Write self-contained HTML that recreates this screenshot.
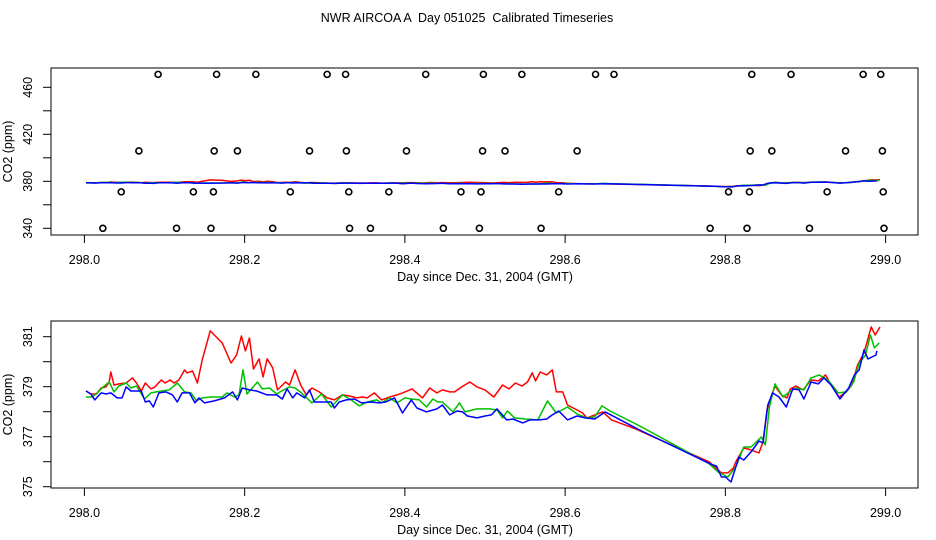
<!DOCTYPE html>
<html><head><meta charset="utf-8"><style>
html,body{margin:0;padding:0;background:#fff;}
svg{display:block;font-family:"Liberation Sans",sans-serif;}
</style></head><body>
<svg id="chart" width="936" height="540" viewBox="0 0 936 540" xmlns="http://www.w3.org/2000/svg">
<text x="467" y="22" font-size="12.5" text-anchor="middle" style="white-space:pre">NWR AIRCOA A  Day 051025  Calibrated Timeseries</text>
<g id="top"></g>
<g id="bot"></g>
</svg>
<script>
const xTicks = [298.0, 298.2, 298.4, 298.6, 298.8, 299.0];
const xTickLabels = ["298.0","298.2","298.4","298.6","298.8","299.0"];
const topYTicks = [340, 360, 380, 400, 420, 440, 460];
const topYLabels = ["340","","380","","420","","460"];
const botYTicks = [375, 376, 377, 378, 379, 380, 381];
const botYLabels = ["375","","377","","379","","381"];

const flaggedHigh = [298.092,298.165,298.214,298.303,298.326,298.426,298.498,298.546,298.638,298.661,298.833,298.882,298.972,298.994];
const flaggedUpper = [298.068,298.162,298.191,298.281,298.327,298.402,298.497,298.525,298.615,298.831,298.858,298.950,298.996];
const flaggedLower = [298.046,298.136,298.161,298.257,298.330,298.380,298.470,298.495,298.592,298.804,298.830,298.927,298.997];
const flaggedLow = [298.023,298.115,298.158,298.235,298.331,298.357,298.448,298.493,298.570,298.781,298.827,298.905,298.998];
const flaggedValues = [471, 405.8, 371, 340];

const redSeries = [[.002,378.83],[.008,378.71],[.015,378.71],[.021,378.95],[.027,378.99],[.031,379.19],[.033,379.59],[.037,379.07],[.043,379.11],[.052,379.15],[.060,379.35],[.065,379.15],[.071,378.83],[.076,379.15],[.083,378.91],[.088,378.99],[.096,379.27],[.101,379.15],[.107,379.27],[.112,379.15],[.118,379.27],[.125,379.67],[.128,379.55],[.135,379.63],[.141,379.15],[.147,380.07],[.157,381.23],[.172,380.75],[.183,379.95],[.190,380.27],[.196,381.03],[.201,380.43],[.206,380.95],[.211,379.71],[.218,380.11],[.223,379.39],[.228,380.11],[.235,379.75],[.241,378.87],[.251,379.19],[.256,379.07],[.263,379.67],[.270,379.07],[.277,378.67],[.284,378.95],[.293,378.79],[.303,378.55],[.312,378.47],[.322,378.67],[.331,378.63],[.340,378.55],[.347,378.59],[.353,378.55],[.362,378.75],[.371,378.47],[.381,378.59],[.390,378.67],[.397,378.75],[.409,378.91],[.422,378.55],[.431,378.95],[.440,378.75],[.447,378.87],[.456,378.79],[.462,378.79],[.471,378.99],[.481,379.19],[.490,378.99],[.500,378.87],[.511,378.59],[.522,379.07],[.530,378.91],[.538,379.15],[.546,379.03],[.553,379.19],[.559,379.55],[.563,379.23],[.569,379.59],[.577,379.47],[.584,379.67],[.589,378.79],[.597,378.79],[.603,378.27],[.615,378.07],[.622,377.95],[.627,377.75],[.637,377.87],[.647,377.99],[.658,377.67],[.688,377.31],[.780,375.99],[.795,375.55],[.803,375.55],[.810,375.75],[.813,375.99],[.823,376.55],[.832,376.47],[.842,376.35],[.847,376.79],[.852,378.07],[.857,378.59],[.862,379.03],[.870,378.67],[.877,378.55],[.881,378.91],[.888,379.03],[.897,378.87],[.907,379.27],[.916,379.23],[.925,379.47],[.932,379.07],[.942,378.59],[.951,378.79],[.958,379.07],[.965,379.87],[.973,380.35],[.982,381.39],[.987,381.07],[.993,381.39]];

const greenSeries = [[.002,378.59],[.010,378.59],[.016,378.75],[.022,378.95],[.031,379.19],[.037,378.79],[.043,379.03],[.052,379.15],[.058,378.95],[.065,379.03],[.075,378.51],[.083,378.75],[.096,378.83],[.106,378.87],[.116,379.15],[.125,378.79],[.133,378.75],[.140,378.43],[.147,378.55],[.158,378.59],[.172,378.59],[.178,378.75],[.187,378.59],[.193,378.67],[.198,379.67],[.203,378.71],[.216,379.19],[.222,378.91],[.231,378.95],[.240,378.71],[.246,378.83],[.256,378.99],[.263,378.95],[.271,378.75],[.284,378.35],[.296,378.71],[.308,378.19],[.322,378.67],[.333,378.47],[.343,378.23],[.353,378.39],[.365,378.47],[.371,378.35],[.381,378.55],[.390,378.35],[.400,378.55],[.408,378.51],[.418,378.47],[.427,378.19],[.435,378.51],[.441,378.39],[.447,378.39],[.460,377.99],[.468,378.35],[.475,377.99],[.490,378.11],[.506,378.11],[.515,378.07],[.522,377.75],[.528,378.03],[.537,377.75],[.550,377.71],[.566,377.67],[.578,378.43],[.589,377.95],[.603,378.19],[.615,377.91],[.627,377.75],[.637,377.79],[.646,378.23],[.656,378.03],[.693,377.43],[.780,375.91],[.791,375.59],[.803,375.39],[.813,375.79],[.823,376.59],[.832,376.59],[.845,376.99],[.850,376.67],[.855,378.19],[.862,379.11],[.872,378.59],[.880,378.79],[.888,378.95],[.898,378.87],[.907,379.35],[.917,379.47],[.928,379.27],[.941,378.75],[.951,378.79],[.960,379.19],[.967,379.95],[.975,380.27],[.981,381.07],[.986,380.55],[.992,380.75]];

const blueSeries = [[.002,378.83],[.008,378.71],[.013,378.47],[.021,378.75],[.027,378.71],[.033,378.75],[.041,378.55],[.047,378.55],[.052,378.99],[.058,378.83],[.071,378.83],[.076,378.39],[.081,378.43],[.086,378.19],[.093,378.75],[.102,378.79],[.110,378.67],[.116,378.39],[.122,378.75],[.131,378.75],[.138,378.35],[.143,378.55],[.150,378.35],[.162,378.43],[.175,378.55],[.185,378.79],[.191,378.47],[.197,378.95],[.206,378.87],[.215,378.83],[.228,378.67],[.240,378.67],[.247,378.51],[.253,378.91],[.260,378.55],[.265,378.75],[.275,378.55],[.281,378.87],[.287,378.39],[.308,378.39],[.312,378.15],[.318,378.39],[.327,378.47],[.337,378.51],[.346,378.35],[.358,378.39],[.368,378.35],[.376,378.39],[.387,378.55],[.397,377.95],[.408,378.47],[.415,378.15],[.427,377.99],[.440,378.11],[.447,378.27],[.456,377.87],[.465,378.03],[.472,377.99],[.478,377.83],[.490,377.75],[.500,377.83],[.508,377.87],[.515,378.11],[.527,377.67],[.535,377.71],[.547,377.55],[.556,377.67],[.568,377.67],[.577,377.71],[.584,377.87],[.592,378.03],[.603,377.67],[.615,377.83],[.625,377.75],[.637,377.71],[.650,377.99],[.693,377.27],[.784,375.87],[.789,375.83],[.795,375.39],[.800,375.39],[.807,375.19],[.811,375.59],[.817,376.19],[.823,376.07],[.832,376.39],[.842,376.83],[.847,376.75],[.853,378.27],[.859,378.75],[.867,378.59],[.876,378.19],[.884,378.91],[.892,378.87],[.898,378.51],[.907,379.19],[.916,379.11],[.923,379.35],[.932,379.07],[.943,378.51],[.954,378.95],[.961,379.47],[.967,379.67],[.973,380.47],[.978,380.11],[.988,380.27],[.989,380.43]];

const NS = "http://www.w3.org/2000/svg";
const X0 = 51, X1 = 918;
function xScale(v){ return 84.4 + 801.2 * (v - 298); }
function topY(v){ return 181.3 - (v - 380) * (47 / 40); }
function botY(v){ return 386.7 - (v - 379) * 25; }
function mk(tag, attrs, parent){ const e = document.createElementNS(NS, tag); for (const k in attrs) e.setAttribute(k, attrs[k]); parent.appendChild(e); return e; }

function panel(g, yTop, yBot, yScale, yTicks, yLabels, prefix){
  const box = mk('rect', {x: X0, y: yTop, width: X1 - X0, height: yBot - yTop, fill: 'none', stroke: '#000', 'stroke-width': 1}, g);
  
  
  xTicks.forEach((t, i) => {
    const x = xScale(t);
    const tk = mk('line', {x1: x, x2: x, y1: yBot, y2: yBot + 8, stroke: '#000'}, g);
    
    
    const lb = mk('text', {x: x, y: yBot + 29, 'font-size': 12.5, 'text-anchor': 'middle'}, g);
    lb.textContent = xTickLabels[i];
    
    
  });
  yTicks.forEach((t, i) => {
    const y = yScale(t);
    const tk = mk('line', {x1: X0 - 8, x2: X0, y1: y, y2: y, stroke: '#000'}, g);
    
    
    if (yLabels[i]) {
      const lb = mk('text', {x: 0, y: 0, 'font-size': 12.5, 'text-anchor': 'middle', transform: 'translate(32,' + y + ') rotate(-90)'}, g);
      lb.textContent = yLabels[i];
      
      
    }
  });
  const xt = mk('text', {x: 485, y: yBot + 46, 'font-size': 12.5, 'text-anchor': 'middle'}, g);
  xt.textContent = 'Day since Dec. 31, 2004 (GMT)';
  
  
  const yt = mk('text', {x: 0, y: 0, 'font-size': 12.5, 'text-anchor': 'middle', transform: 'translate(12,' + ((yTop + yBot) / 2) + ') rotate(-90)'}, g);
  yt.textContent = 'CO2 (ppm)';
  
  
  [[redSeries, '#ff0000', 'red'], [greenSeries, '#00c000', 'green'], [blueSeries, '#0000ff', 'blue']].forEach(s => {
    const d = s[0].map((p, i) => (i ? 'L' : 'M') + xScale(298 + p[0]).toFixed(1) + ',' + yScale(p[1]).toFixed(1)).join('');
    const pl = mk('path', {d: d, fill: 'none', stroke: s[1], 'stroke-width': 1.5, 'stroke-linejoin': 'round'}, g);
    
    
  });
}

const topG = document.getElementById('top');
const botG = document.getElementById('bot');
panel(topG, 68, 235, topY, topYTicks, topYLabels, 'top');
[flaggedHigh, flaggedUpper, flaggedLower, flaggedLow].forEach((arr, r) => {
  arr.forEach(d => {
    const c = mk('circle', {cx: xScale(d), cy: topY(flaggedValues[r]), r: 3, fill: 'none', stroke: '#000', 'stroke-width': 1.6}, topG);
    
    
  });
});
panel(botG, 321, 488, botY, botYTicks, botYLabels, 'bottom');
</script>
</body></html>
